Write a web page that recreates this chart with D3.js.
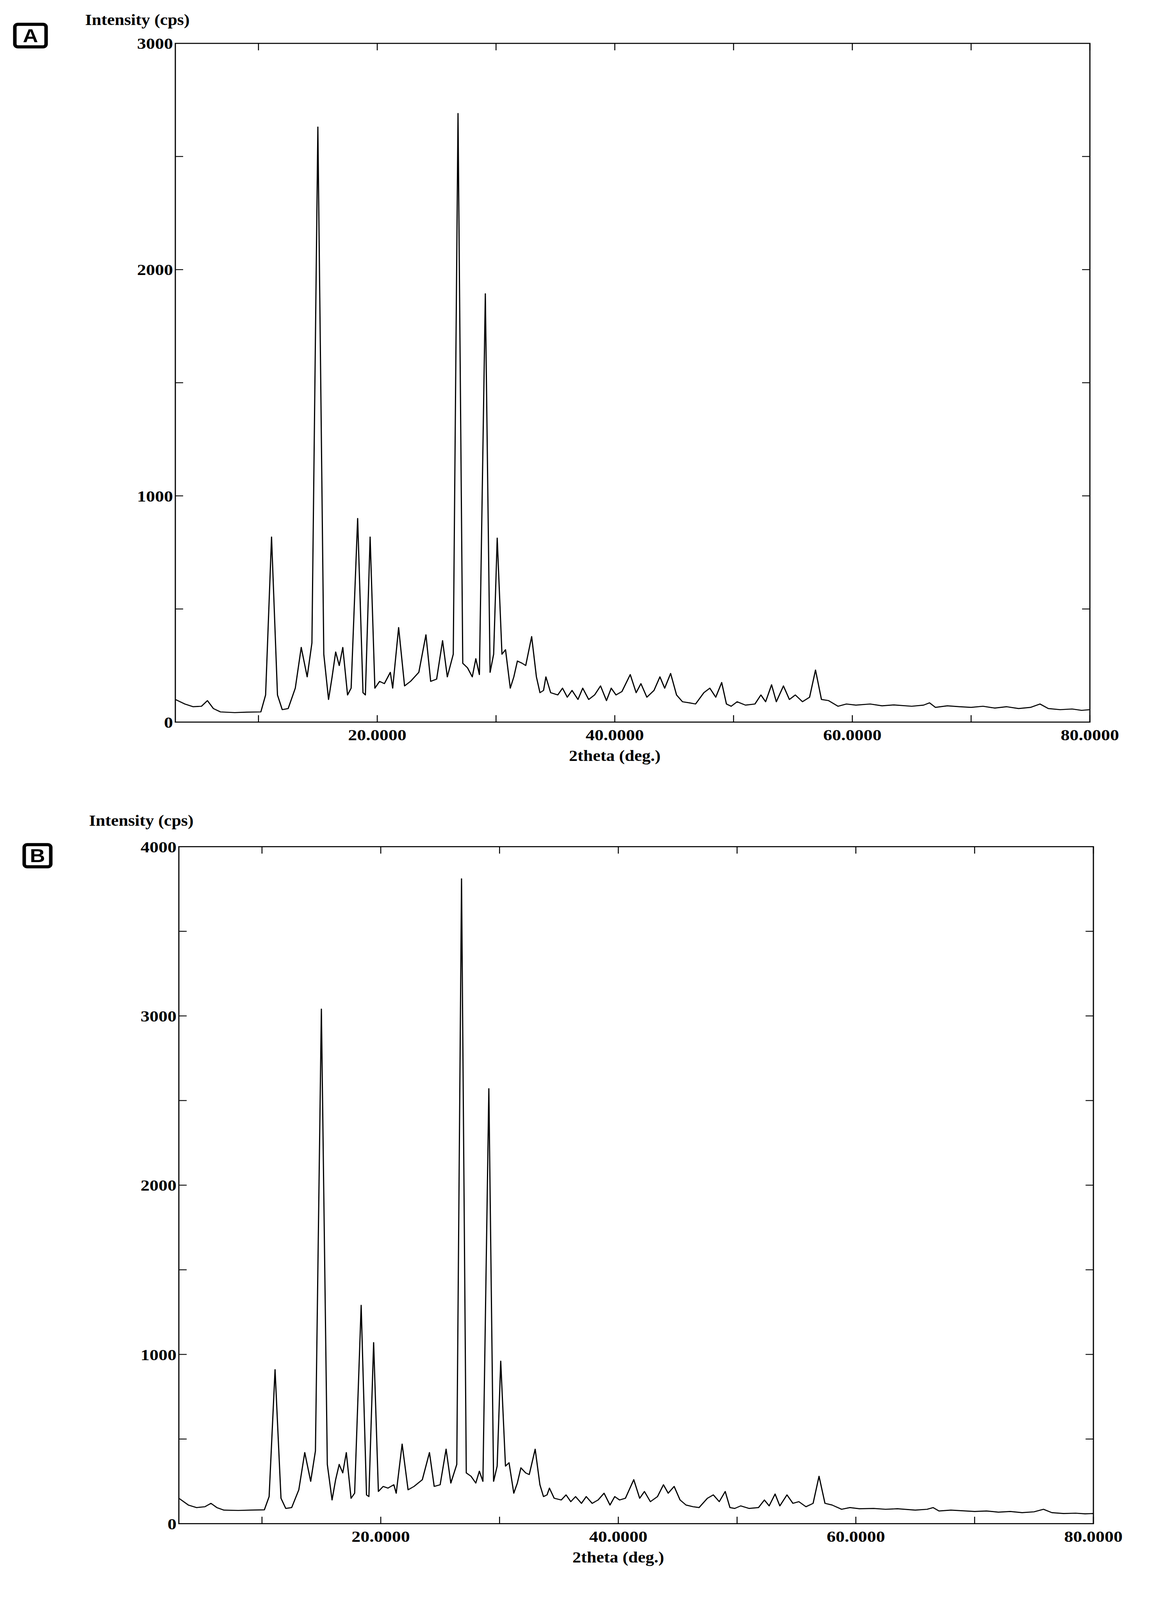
<!DOCTYPE html>
<html><head><meta charset="utf-8">
<script src="https://cdn.jsdelivr.net/npm/d3@7"></script>
<style>html,body{margin:0;padding:0;background:#fff;overflow:hidden}svg{display:block;width:100vw;height:100vh}</style></head>
<body><svg id="c" viewBox="0 0 2968 4611" preserveAspectRatio="none"></svg>
<script>
const xTicks = [20, 40, 60, 80];
const xTickLabels = ["20.0000","40.0000","60.0000","80.0000"];
const yTicksA = [0, 1000, 2000, 3000];
const yTicksB = [0, 1000, 2000, 3000, 4000];

const thetaA = [3.0,3.8,4.5,5.2,5.7,6.2,6.8,8,9,10.2,10.6,11.1,11.6,12.0,12.5,13.1,13.6,14.1,14.5,15.0,15.5,15.9,16.2,16.5,16.8,17.1,17.5,17.8,18.35,18.8,19.0,19.4,19.8,20.2,20.6,21.1,21.3,21.8,22.3,22.8,23.5,24.1,24.5,25.0,25.5,25.9,26.4,26.8,27.2,27.6,28.0,28.3,28.6,29.1,29.5,29.8,30.1,30.5,30.8,31.2,31.5,31.8,32.2,32.5,33.0,33.4,33.7,34.0,34.2,34.6,35.2,35.6,36,36.4,36.9,37.3,37.8,38.3,38.8,39.3,39.7,40.1,40.6,41.3,41.8,42.2,42.7,43.3,43.8,44.2,44.7,45.2,45.7,46.3,46.8,47.5,48.0,48.5,49.0,49.4,49.8,50.3,51.0,51.8,52.3,52.7,53.2,53.6,54.2,54.7,55.2,55.8,56.4,56.9,57.4,58.0,58.8,59.5,60.3,61.5,62.5,63.5,65,66,66.5,67,68,69,70,71,72,73,74,75,75.8,76.5,77.5,78.5,79.3,80];
const intA = [100,80,68,70,95,60,45,42,44,45,120,818,120,55,60,150,330,200,350,2630,300,100,200,310,250,330,120,150,900,130,120,818,150,180,170,220,150,418,160,180,220,386,180,190,360,200,300,2690,260,240,200,280,210,1893,220,300,813,300,320,150,200,270,260,250,378,200,130,140,200,130,120,150,110,140,100,150,100,120,160,95,150,120,135,210,130,170,110,140,200,150,215,120,90,85,80,130,150,110,175,80,70,90,75,80,120,90,165,90,160,100,120,90,110,230,100,95,70,80,75,80,72,76,70,75,85,65,72,68,65,70,62,68,60,65,80,60,55,58,52,55];

const thetaB = thetaA;
const intB = [150,110,95,100,120,95,80,78,80,82,160,910,150,90,95,200,420,250,430,3040,350,140,260,350,300,420,150,180,1290,170,160,1070,190,220,210,230,180,470,200,220,260,420,220,230,440,240,350,3810,300,280,240,310,250,2570,250,340,960,340,360,180,240,330,300,290,440,230,160,170,210,150,140,170,130,160,120,160,120,140,180,110,160,140,150,260,150,190,130,160,230,180,220,140,110,100,95,150,170,130,190,95,90,105,90,95,140,105,175,105,170,120,130,100,120,280,120,110,85,95,88,90,85,88,80,85,95,75,80,76,72,75,68,72,65,70,85,65,60,62,58,60];

const svg = d3.select("#c");
const font = "'Liberation Serif','Times New Roman',serif";

function box(label, x, y, w, h) {
  svg.append("rect").attr("x", x).attr("y", y).attr("width", w).attr("height", h)
    .attr("rx", 8).attr("fill", "#fff").attr("stroke", "#000").attr("stroke-width", 9);
  svg.append("text").attr("x", x + w / 2).attr("y", y + h / 2 + 19).attr("text-anchor", "middle")
    .attr("font-family", "'Liberation Sans',Arial,sans-serif").attr("font-weight", "bold")
    .attr("font-size", 54).text(label);
}

function panel(o) {
  const {L, R, T, B, yMax, yTicks, theta, inten} = o;
  const x = d3.scaleLinear().domain([3, 80]).range([L, R]);
  const y = d3.scaleLinear().domain([0, yMax]).range([B, T]);
  const g = svg.append("g");
  g.append("rect").attr("x", L).attr("y", T).attr("width", R - L).attr("height", B - T)
    .attr("fill", "none").attr("stroke", "#000").attr("stroke-width", 3);
  const tl = 20;
  d3.range(10, 81, 10).forEach(v => {
    g.append("line").attr("x1", x(v)).attr("x2", x(v)).attr("y1", B).attr("y2", B - tl).attr("stroke", "#000").attr("stroke-width", 2.5);
    g.append("line").attr("x1", x(v)).attr("x2", x(v)).attr("y1", T).attr("y2", T + tl).attr("stroke", "#000").attr("stroke-width", 2.5);
  });
  d3.range(500, yMax, 500).forEach(v => {
    g.append("line").attr("x1", L).attr("x2", L + tl).attr("y1", y(v)).attr("y2", y(v)).attr("stroke", "#000").attr("stroke-width", 2.5);
    g.append("line").attr("x1", R).attr("x2", R - tl).attr("y1", y(v)).attr("y2", y(v)).attr("stroke", "#000").attr("stroke-width", 2.5);
  });
  yTicks.forEach(v => {
    g.append("text").attr("x", L - 6).attr("y", y(v) + 16).attr("text-anchor", "end")
      .attr("font-family", font).attr("font-weight", "bold").attr("font-size", 46).text(v);
  });
  xTicks.forEach((v, i) => {
    g.append("text").attr("x", x(v)).attr("y", B + 52).attr("text-anchor", "middle")
      .attr("font-family", font).attr("font-weight", "bold").attr("font-size", 46).text(xTickLabels[i]);
  });
  g.append("text").attr("x", x(40)).attr("y", B + 112).attr("text-anchor", "middle")
    .attr("font-family", font).attr("font-weight", "bold").attr("font-size", 44).text("2theta (deg.)");
  g.append("text").attr("x", o.ylx).attr("y", o.yly).attr("text-anchor", "start")
    .attr("font-family", font).attr("font-weight", "bold").attr("font-size", 44).text("Intensity (cps)");
  const pts = theta.map((t, i) => [t, inten[i]]);
  g.append("path").datum(pts)
    .attr("d", d3.line().x(d => x(d[0])).y(d => y(d[1])))
    .attr("fill", "none").attr("stroke", "#000").attr("stroke-width", 3).attr("stroke-linejoin", "round");
}

box("A", 38, 70, 80, 65);
box("B", 62, 2434, 68, 64);
panel({L: 449, R: 2791, T: 125, B: 2081, yMax: 3000, yTicks: yTicksA, theta: thetaA, inten: intA, ylx: 218, yly: 72});
panel({L: 458, R: 2800, T: 2440, B: 4391, yMax: 4000, yTicks: yTicksB, theta: thetaB, inten: intB, ylx: 228, yly: 2380});
</script></body></html>
